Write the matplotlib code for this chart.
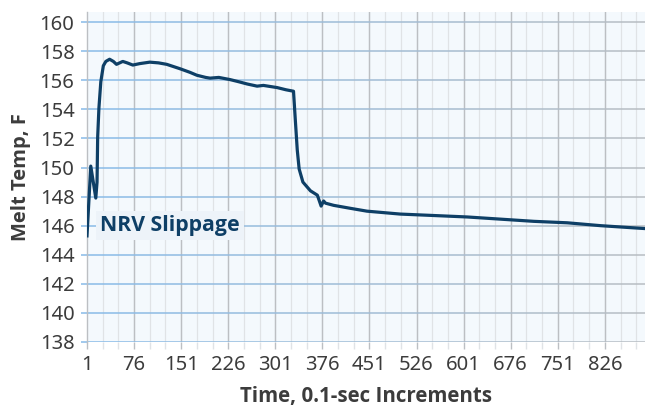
import numpy as np
import matplotlib
matplotlib.use("Agg")
import matplotlib.pyplot as plt
from matplotlib.collections import LineCollection
from matplotlib.colors import to_rgb

# ---- data ----
time = [1, 7, 15, 17, 18, 20, 23, 27, 31, 37,
        43, 48, 53, 58, 65, 74, 85, 101, 115, 128,
        149, 165, 176, 190, 197, 211, 229, 243, 256, 272,
        282, 304, 318, 330, 333, 336, 339, 345, 357, 368,
        374, 378, 381, 394, 420, 447, 500, 554, 607, 660,
        713, 766, 820, 873, 891]
melt_temp = [145.3, 150.1, 147.9, 149.0, 152.1, 154.1, 155.9, 157.0, 157.3, 157.45,
             157.3, 157.1, 157.2, 157.3, 157.2, 157.05, 157.15, 157.25, 157.2, 157.1,
             156.8, 156.55, 156.35, 156.2, 156.15, 156.2, 156.05, 155.9, 155.75, 155.6,
             155.65, 155.5, 155.35, 155.25, 153.2, 151.2, 149.9, 149.0, 148.4, 148.1,
             147.35, 147.7, 147.55, 147.4, 147.2, 147.0, 146.8, 146.7, 146.6, 146.45,
             146.3, 146.2, 146.0, 145.85, 145.8]

x_ticks = [1, 76, 151, 226, 301, 376, 451, 526, 601, 676, 751, 826]
y_ticks = [138, 140, 142, 144, 146, 148, 150, 152, 154, 156, 158, 160]

# ---- style ----
LINE = '#0e3f66'
BG = '#f4f9fd'
TXT = '#3c3c3c'
BOLD_FONT = ['Open Sans', 'DejaVu Sans']
X_MIN, X_MAX = 1, 890
Y_MIN, Y_MAX = 138, 160.7

plt.rcParams['font.family'] = ['Noto Sans', 'DejaVu Sans']

fig = plt.figure(figsize=(6.45, 4.07), dpi=100)
ax = fig.add_axes([87 / 645, 1 - 342 / 407, 1 - 87 / 645, (342 - 12) / 407])
ax.set_facecolor(BG)
ax.set_xlim(X_MIN, X_MAX)
ax.set_ylim(Y_MIN, Y_MAX)

# vertical grid: major every 75, minor every 25
minor_x = np.arange(26, X_MAX, 25)
for xv in minor_x:
    ax.axvline(xv, color='#e0e3e6', lw=0.9, zorder=1)
for xv in x_ticks[1:]:
    ax.axvline(xv, color='#bcbfc3', lw=1.0, zorder=1.5)

# horizontal grid with blue -> grey fade
c0, c1 = np.array(to_rgb('#88bbe8')), np.array(to_rgb('#b8bdc3'))
xs = np.linspace(X_MIN, X_MAX, 80)
segs, cols = [], []
for yv in y_ticks:
    for i in range(len(xs) - 1):
        segs.append([(xs[i], yv), (xs[i + 1], yv)])
        t = i / (len(xs) - 2)
        cols.append(c0 * (1 - t) + c1 * t)
ax.add_collection(LineCollection(segs, colors=cols, linewidths=1.1, zorder=2))

# data line
ax.plot(time, melt_temp, color=LINE, lw=2.3, zorder=5, solid_joinstyle='round')

ax.text(22, 146.0, 'NRV Slippage', color=LINE, fontsize=15.3, fontweight='bold',
        family=BOLD_FONT, va='center', ha='left', zorder=6,
        bbox=dict(boxstyle='square,pad=0.2', fc='#edf3f9', ec='none'))

# axes decoration
for s in ['top', 'right']:
    ax.spines[s].set_visible(False)
ax.spines['left'].set_color('#bcbfc3')
ax.spines['left'].set_linewidth(1.0)
ax.spines['bottom'].set_visible(False)

ax.set_xticks(x_ticks)
ax.set_xticks(minor_x, minor=True)
ax.set_yticks(y_ticks)
ax.tick_params(axis='x', which='both', length=5, width=1.0, color='#bcbfc3',
               labelsize=14.5, labelcolor=TXT, pad=4)
ax.tick_params(axis='x', which='minor', color='#e0e3e6')
ax.tick_params(axis='y', length=4, width=1.1, color='#88bbe8',
               labelsize=14.5, labelcolor=TXT, pad=5)

ax.set_xlabel('Time, 0.1-sec Increments', fontsize=14.8, fontweight='bold',
              family=BOLD_FONT, color=TXT, labelpad=8.5)
ax.set_ylabel('Melt Temp, F', fontsize=14.5, fontweight='bold',
              family=BOLD_FONT, color=TXT, labelpad=6)

fig.savefig('out.png', dpi=100)
